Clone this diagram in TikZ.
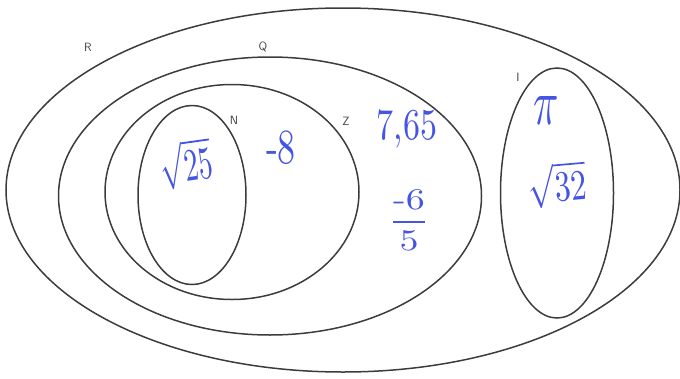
\documentclass[tikz,border=0pt]{standalone}
\usetikzlibrary{shapes.geometric}
\usepackage{graphicx}
\usepackage{amsmath}
\definecolor{setgray}{RGB}{60,60,60}
\definecolor{hwblue}{RGB}{70,85,225}
\newcommand{\hwtext}[3]{\scalebox{#1}[#2]{#3}}
\begin{document}
\begin{tikzpicture}[x=1pt,y=-1pt,
  setell/.style={draw=setgray, line width=1.5pt, ellipse, inner sep=0pt},
  lab/.style={font=\sffamily\fontsize{12}{12}\selectfont, text=black!75, inner sep=0pt},
  hw/.style={text=hwblue, inner sep=0pt}]
\useasboundingbox (0,0) rectangle (680,378);
\node[setell, minimum width=674pt, minimum height=364pt] (R) at (343,190) {};
\node[setell, minimum width=423pt, minimum height=278pt] (Q) at (270,196) {};
\node[setell, minimum width=254pt, minimum height=215pt] (Z) at (232,192) {};
\node[setell, minimum width=108pt, minimum height=179pt] (N) at (192,195) {};
\node[setell, minimum width=113pt, minimum height=250pt] (I) at (557,193) {};
\node[lab] (lR) at (88,47) {R};
\node[lab] (lQ) at (263,47) {Q};
\node[lab] (lN) at (234,120) {N};
\node[lab] (lZ) at (346,121) {Z};
\node[lab] (lI) at (518,77) {I};
\node[hw, rotate=8] (t25) at (186,164) {\hwtext{2.85}{4.6}{$\sqrt{25}$}};
\node[hw] (tm8) at (281,148) {\hwtext{3.6}{4.9}{-8}};
\node[hw] (t765) at (407,129) {\hwtext{3.4}{4.4}{7,65}};
\node[hw] (tfrac) at (409,220) {\hwtext{3.8}{3}{$\dfrac{\text{-}6}{5}$}};
\node[hw] (tpi) at (546,111) {\hwtext{4.2}{6.5}{$\pi$}};
\node[hw, rotate=5] (t32) at (557,185) {\hwtext{3.2}{4.3}{$\sqrt{32}$}};
\end{tikzpicture}
\end{document}
